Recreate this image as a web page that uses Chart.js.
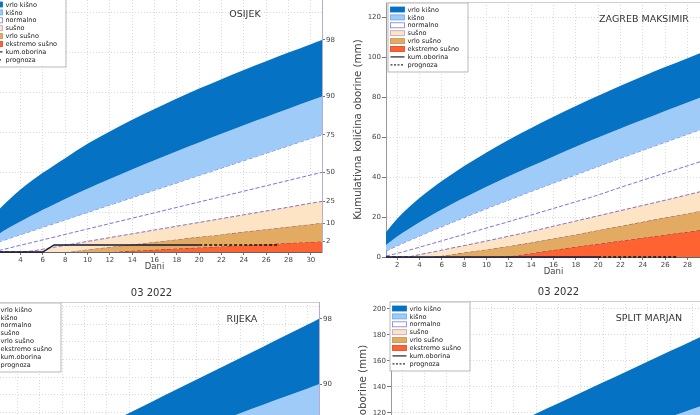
<!DOCTYPE html>
<html><head><meta charset="utf-8">
<script src="https://cdn.jsdelivr.net/npm/chart.js@4.4.1/dist/chart.umd.min.js"></script>
<style>
html,body{margin:0;padding:0;width:700px;height:415px;overflow:hidden;background:#fff;}
.panel{position:absolute;}
canvas{display:block;}
</style></head><body>
<div id="w0" class="panel"><canvas id="c0"></canvas></div>
<div id="w1" class="panel"><canvas id="c1"></canvas></div>
<div id="w2" class="panel"><canvas id="c2"></canvas></div>
<div id="w3" class="panel"><canvas id="c3"></canvas></div>
<script>
// ---------- data ----------
const days = [1,2,3,4,5,6,7,8,10,12,14,16,18,20,22,24,26,28,30,31];
const xTicks = [2,4,6,8,10,12,14,16,18,20,22,24,26,28,30];
const percentileLabels = ['2','10','25','50','75','90','98'];
const legendLabels = ['vrlo kišno','kišno','normalno','sušno','vrlo sušno','ekstremo sušno','kum.oborina','prognoza'];
const monthTitle = '03 2022';
const stations = ['OSIJEK','ZAGREB MAKSIMIR','RIJEKA','SPLIT MARJAN'];

const osijekP2  = [0,0,0,0,0,0,0,0,0,0,0.6,1.1,1.7,2.2,2.8,3.4,3.9,4.5,5.0,5.3];
const osijekP10 = [0,0,0,0,0,0,0,0,1.3,2.5,3.8,5,6.3,7.6,8.8,10.1,11.4,12.6,13.9,14.5];
const osijekP25 = [0,0,0,0,0.5,1.4,2.4,3.3,5.3,7.2,9.1,11,12.9,14.8,16.7,18.6,20.5,22.4,24.4,25.3];
const osijekP50 = [0,0.7,2,3.4,4.7,6.1,7.4,8.8,11.5,14.2,16.9,19.6,22.3,25,27.7,30.4,33.1,35.8,38.5,39.8];
const osijekP75 = [3.1,5,6.8,8.7,10.5,12.4,14.2,16.1,19.8,23.5,27.2,30.9,34.6,38.3,42,45.7,49.4,53.1,56.8,58.6];
const osijekP90 = [5.1,8.8,12.2,15.3,18.2,21.1,23.8,26.5,31.6,36.5,41.3,45.9,50.4,54.8,59.1,63.4,67.5,71.6,75.7,77.7];
const osijekP98 = [13.8,20.8,26.3,31.3,35.6,39.6,43.3,46.9,54.1,60.3,66.1,71.5,76.7,81.7,86.4,91,95.4,99.7,103.9,106];
const osijekObsDays = [1,2,3,4,5,6,7,8,9,10,11,12,13,14,15,16,17,18,19,20];
const osijekObs     = [0,0,0,0,0,0,3.5,3.5,3.5,3.5,3.5,3.5,3.5,3.5,3.5,3.5,3.5,3.5,3.5,3.5];
const osijekFcDays  = [20,21,22,23,24,25,26,27];
const osijekFc      = [3.5,3.5,3.5,3.5,3.5,3.5,3.5,3.5];

const zagrebP2  = [0,0,0,0,0,0,0,0,0,0.4,1.9,3.5,5.1,6.6,8.1,9.6,11.1,12.6,14.1,14.9];
const zagrebP10 = [0,0,0,0,0,0.6,1.4,2.2,3.8,5.4,7.2,9.2,11.3,13.4,15.5,17.6,19.7,21.8,24,25.1];
const zagrebP25 = [0,0,0.1,1.2,2.3,3.4,4.6,5.7,8,10.4,12.8,15.4,18,20.6,23.2,25.8,28.4,31.1,33.8,35.2];
const zagrebP50 = [0.5,1.8,3.3,4.9,6.5,8.1,9.7,11.3,14.5,17.7,21,24.3,27.6,31,34.8,38.4,42,45.6,49.2,51];
const zagrebP75 = [3,5.6,8.1,10.5,12.9,15.2,17.5,19.7,24.2,28.5,32.8,37,41.1,45.3,49.4,53.4,57.4,61.4,65.3,67.3];
const zagrebP90 = [6,10.2,13.9,17.4,20.6,23.7,26.7,29.6,35.1,40.4,45.4,50.3,55.1,59.7,64.3,68.6,73,77.3,81.5,83.6];
const zagrebP98 = [12.4,19.1,24.6,29.5,33.9,38,41.8,45.5,52.3,58.6,64.5,70.1,75.5,80.6,85.6,90.4,95,99.4,103.9,106];
const zagrebObsDays = [1,2,3,4,5,6,7,8,9,10,11,12,13,14,15,16,17,18,19,20];
const zagrebObs     = [0,0,0,0,0,0,0,0,0,0,0,0,0,0,0,0,0,0,0,0];
const zagrebFcDays  = [20,21,22,23,24,25,26,27];
const zagrebFc      = [0,0,0,0,0,0,0,0];

const rijekaP2  = [0,0,0,0,0,0,0,0,0.5,2,3.5,5,6.8,8.6,10.4,12.2,14,15.8,17.6,18.5];
const rijekaP10 = [0,0,0,0.5,2,3.5,5,6.5,9.5,13,16.5,20,23.5,27,30.5,34,37.5,41,44.5,46];
const rijekaP25 = [0,1,3,5,8,10.5,13,16,21,26.5,32,37.5,43,48.5,54,59.5,65,70.5,76,79];
const rijekaP50 = [3,7,11,15,19,23,27,31,38,45.5,53,60.5,68,75.5,83,90.5,98,105.5,113,117];
const rijekaP75 = [15,20,25,30,34,38.5,43,47.5,56,64.5,73,81.5,90,98.5,107,115.5,124,132.5,141,145];
const rijekaP90 = [32,42,50,57,63,69,74.5,80,90,100,110,120,130,140,150,159.5,168.8,178,187.3,191.9];
const rijekaP98 = [55,69,80,89.5,98,106,113.5,120.5,134,147,159.5,172,184.5,197,209.5,222,234.5,247,259.5,266];

const splitP2  = [0,0,0,0,0,0,0,0,0.5,1.5,3,4.5,6,7.5,9,10.5,12,13.5,15,16];
const splitP10 = [0,0,0,0,0.5,1.5,2.5,3.5,5.5,8,10.5,13,15.5,18,20.5,23,25.5,28,30.5,32];
const splitP25 = [0,0.5,1.5,2.5,4,5.5,7,8.5,11.5,14.5,18,21.5,25,28.5,32,35.5,39,42.5,46,48];
const splitP50 = [1,3.5,6,8.5,11,13.5,16,18.5,23.5,28.5,33.5,38.5,43.5,48.5,53.5,58.5,63.5,68.5,73.5,76];
const splitP75 = [8,13,17,21,25,28.5,32,35.5,42,48.5,55,61,67,73,79,85,91,97,103,106];
const splitP90 = [20,27,33,38,43,47.5,52,56,64,71.5,79,86,92,98,104.5,111,117,123,129,132];
const splitP98 = [45,55,63,70,76,81.5,87,92,101,110.5,119.5,127.5,135.5,143.5,151.5,159.5,167.5,175.5,183.5,187.5];

const yMaxes = [127.5, 127.5, 285, 206];

// ---------- styling ----------
const FONT = 'DejaVu Sans';
Chart.defaults.font.family = FONT;
Chart.defaults.animation = false;

const C_DARK = '#0672c4', C_LIGHT = '#9ecbf8', C_PEACH = '#fde4c4', C_TAN = '#e2ab61', C_RED = '#ff6331';
const bandStyles = [
  {fill:'origin', bg:C_RED,   line:'rgba(110,50,90,0.85)', dash:[4,2]},
  {fill:'-1',     bg:C_TAN,   line:'rgba(110,70,120,0.85)', dash:[4,2]},
  {fill:'-1',     bg:C_PEACH, line:'rgba(120,100,200,0.9)', dash:[4,2]},
  {fill:false,    bg:'#fff',  line:'rgba(110,100,220,0.9)', dash:[4,2]},
  {fill:false,    bg:'#fff',  line:'rgba(100,100,220,0.9)', dash:[4,2]},
  {fill:'-1',     bg:C_LIGHT, line:'rgba(0,0,0,0)', dash:[]},
  {fill:'-1',     bg:C_DARK,  line:'rgba(0,0,0,0)', dash:[]}
];
const legendSwatches = [
  {type:'box', fill:C_DARK, stroke:C_DARK},
  {type:'box', fill:C_LIGHT, stroke:'#6da6e6'},
  {type:'box', fill:'#fff', stroke:'#7c7cdc'},
  {type:'box', fill:C_PEACH, stroke:'#b9a0c4'},
  {type:'box', fill:C_TAN, stroke:'#c89050'},
  {type:'box', fill:C_RED, stroke:'#e04020'},
  {type:'line', dash:[]},
  {type:'line', dash:[2,1.5]}
];

function pts(xs, ys){ return xs.map((x,i)=>({x:x, y:ys[i]})); }

const panelSeries = [
  {bands:[osijekP2,osijekP10,osijekP25,osijekP50,osijekP75,osijekP90,osijekP98], obs:[osijekObsDays,osijekObs], fc:[osijekFcDays,osijekFc]},
  {bands:[zagrebP2,zagrebP10,zagrebP25,zagrebP50,zagrebP75,zagrebP90,zagrebP98], obs:[zagrebObsDays,zagrebObs], fc:[zagrebFcDays,zagrebFc]},
  {bands:[rijekaP2,rijekaP10,rijekaP25,rijekaP50,rijekaP75,rijekaP90,rijekaP98]},
  {bands:[splitP2,splitP10,splitP25,splitP50,splitP75,splitP90,splitP98]}
];
// plot-area placement of each panel in the page (layout only)
const panelBoxes = [
  {left:-13.5, top:-3,  width:335,   height:255.3, legendDx:18.5},
  {left:385.5, top:2,   width:334.5, height:255,   legendDx:21.5},
  {left:-16.5, top:302, width:334.5, height:252,   legendDx:16.5},
  {left:390.5, top:301, width:334.5, height:268,   legendDx:18.5}
];

const PAD_T = 30, AX_L = 34, AX_R = 28, AX_B = 20, PAD_R = 4, PAD_B = 4;

const extras = {
  id:'extras',
  afterDraw(chart, args, o){
    const ca = chart.chartArea, ctx = chart.ctx;
    ctx.save();
    ctx.strokeStyle = '#cfcfcf'; ctx.lineWidth = 1;
    ctx.beginPath(); ctx.moveTo(ca.left, ca.top + 0.5); ctx.lineTo(ca.right, ca.top + 0.5); ctx.stroke();
    ctx.fillStyle = '#333'; ctx.textAlign = 'center'; ctx.textBaseline = 'middle';
    ctx.font = '9.5px "DejaVu Sans"';
    ctx.fillText(o.station, ca.left + 0.77 * (ca.right - ca.left), ca.top + 17.5);
    ctx.font = '10px "DejaVu Sans"';
    ctx.fillText(monthTitle, (ca.left + ca.right) / 2, ca.top - 9);
    // legend
    const tx = ca.left + o.legendDx, by = ca.top + 0.5, bx = tx - 20;
    ctx.fillStyle = '#fff'; ctx.fillRect(bx, by, 80, 69);
    ctx.strokeStyle = '#a8a8a8'; ctx.lineWidth = 0.8; ctx.strokeRect(bx + 0.5, by + 0.5, 80, 69);
    ctx.textAlign = 'left'; ctx.font = '6.5px "DejaVu Sans"';
    legendLabels.forEach((lab, i) => {
      const y = by + 7 + i * 7.9, sw = legendSwatches[i];
      if (sw.type === 'box') {
        ctx.fillStyle = sw.fill; ctx.fillRect(tx - 17, y - 2.5, 14, 5);
        ctx.strokeStyle = sw.stroke; ctx.lineWidth = 0.8; ctx.strokeRect(tx - 17, y - 2.5, 14, 5);
      } else {
        ctx.strokeStyle = '#333'; ctx.lineWidth = 1.3; ctx.setLineDash(sw.dash);
        ctx.beginPath(); ctx.moveTo(tx - 17, y); ctx.lineTo(tx - 3, y); ctx.stroke(); ctx.setLineDash([]);
      }
      ctx.fillStyle = '#222'; ctx.fillText(lab, tx, y + 0.5);
    });
    ctx.restore();
  }
};

panelSeries.forEach((ps, k) => {
  const box = panelBoxes[k];
  const W = Math.round(AX_L + box.width + AX_R + PAD_R);
  const H = Math.round(PAD_T + box.height + AX_B + PAD_B);
  const cv = document.getElementById('c' + k);
  cv.width = W; cv.height = H; cv.style.width = W + 'px'; cv.style.height = H + 'px';
  const wrap = document.getElementById('w' + k);
  wrap.style.left = (box.left - AX_L) + 'px'; wrap.style.top = (box.top - PAD_T) + 'px';

  const datasets = ps.bands.map((arr, i) => ({
    data: pts(days, arr), fill: bandStyles[i].fill, backgroundColor: bandStyles[i].bg,
    borderColor: bandStyles[i].line, borderWidth: 1, borderDash: bandStyles[i].dash,
    pointRadius: 0, cubicInterpolationMode: 'monotone', yAxisID: 'y', order: 10 - i
  }));
  if (ps.obs) datasets.push({data: pts(ps.obs[0], ps.obs[1]), fill:false, borderColor:'#161636', borderWidth:1.4, pointRadius:0, clip:4, yAxisID:'y', order:-2});
  if (ps.fc) datasets.push({data: pts(ps.fc[0], ps.fc[1]), fill:false, borderColor:'#111', borderWidth:1.4, borderDash:[3,2], pointRadius:0, clip:4, yAxisID:'y', order:-1});
  const endVals = ps.bands.map(a => a[a.length - 1]);
  const yMax = yMaxes[k];

  const chart = new Chart(cv, {
    type: 'line',
    data: {datasets},
    plugins: [extras],
    options: {
      responsive: false, animation: false,
      layout: {padding: {top: PAD_T, left: 0, right: PAD_R, bottom: PAD_B}},
      plugins: {legend: {display:false}, tooltip: {enabled:false}, extras: {station: stations[k], legendDx: box.legendDx}},
      scales: {
        x: {type:'linear', min:1, max:31,
            afterBuildTicks: s => { s.ticks = xTicks.map(v => ({value:v})); },
            afterFit: s => { s.height = AX_B; },
            ticks: {autoSkip:false, maxRotation:0, padding:1, font:{size:7}, color:'#444'},
            grid: {color:'#d9d9d9', tickLength:3, tickColor:'#777'},
            border: {color:'#666', dash:[1,2]},
            title: {display:true, text:'Dani', font:{size:8.5}, color:'#444', padding:{top:0, bottom:0}}},
        y: {type:'linear', position:'left', min:0, max:yMax,
            afterFit: s => { s.width = AX_L; },
            ticks: {stepSize:20, includeBounds:false, padding:1, font:{size:7}, color:'#444'},
            grid: {color:'#d9d9d9', tickLength:4, tickColor:'#777'},
            border: {color:'#9a9a9a', dash:[1,2]},
            title: {display:true, text:'Kumulativna količina oborine (mm)', font:{size:10.3}, color:'#444', padding:{top:0, bottom:0}}},
        yR: {type:'linear', position:'right', min:0, max:yMax,
            afterBuildTicks: s => { s.ticks = endVals.map(v => ({value:v})); },
            afterFit: s => { s.width = AX_R; },
            ticks: {autoSkip:false, padding:1, font:{size:7}, color:'#444', callback: (v, i) => percentileLabels[i]},
            grid: {drawOnChartArea:false, tickLength:3, tickColor:'#777'},
            border: {color:'#b3acd6'}}
      }
    }
  });
  const ca = chart.chartArea;
  wrap.style.left = (box.left - ca.left) + 'px';
  wrap.style.top = (box.top - ca.top) + 'px';
});
</script>
</body></html>
